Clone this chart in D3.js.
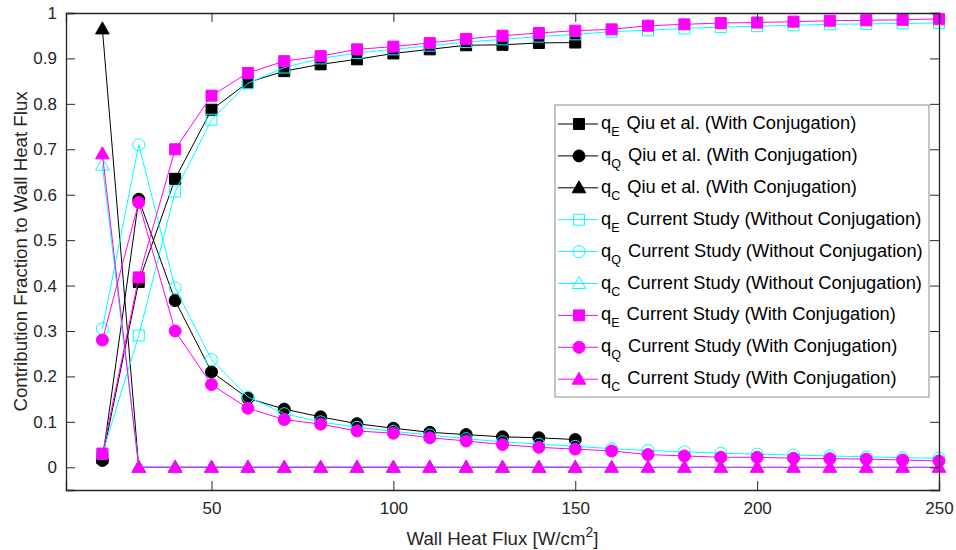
<!DOCTYPE html>
<html>
<head>
<meta charset="utf-8">
<script src="https://cdn.jsdelivr.net/npm/d3@7"></script>
<style>
  body { margin: 0; background: #fff; }
  svg { display: block; font-family: "Liberation Sans", Arial, sans-serif; }
</style>
</head>
<body>
<svg id="chart" width="956" height="550"></svg>
<script>
// Wall heat flux values [W/cm2]
const fluxQiu = [20, 30, 40, 50, 60, 70, 80, 90, 100, 110, 120, 130, 140, 150];
const fluxCur = [20, 30, 40, 50, 60, 70, 80, 90, 100, 110, 120, 130, 140, 150, 160, 170, 180, 190, 200, 210, 220, 230, 240, 250];

// Qiu et al. (with conjugation)
const qiuQE = [0.02, 0.408, 0.635, 0.787, 0.847, 0.872, 0.887, 0.898, 0.911, 0.92, 0.929, 0.93, 0.934, 0.935];
const qiuQQ = [0.015, 0.59, 0.367, 0.21, 0.152, 0.128, 0.111, 0.096, 0.086, 0.077, 0.072, 0.067, 0.065, 0.061];
const qiuQC = [0.965, 0, 0, 0, 0, 0, 0, 0, 0, 0, 0, 0, 0, 0];

// Current study (without conjugation)
const woQE = [0.03, 0.29, 0.607, 0.765, 0.845, 0.88, 0.9, 0.912, 0.92, 0.928, 0.936, 0.942, 0.948, 0.953, 0.959, 0.962, 0.966, 0.969, 0.971, 0.973, 0.975, 0.976, 0.977, 0.978];
const woQQ = [0.305, 0.71, 0.395, 0.237, 0.155, 0.118, 0.1, 0.088, 0.079, 0.071, 0.063, 0.056, 0.051, 0.046, 0.041, 0.037, 0.034, 0.031, 0.029, 0.027, 0.025, 0.023, 0.021, 0.02];
const woQC = [0.665, 0, 0, 0, 0, 0, 0, 0, 0, 0, 0, 0, 0, 0, 0, 0, 0, 0, 0, 0, 0, 0, 0, 0];

// Current study (with conjugation)
const wQE = [0.03, 0.418, 0.70, 0.818, 0.868, 0.894, 0.905, 0.92, 0.926, 0.934, 0.943, 0.95, 0.956, 0.961, 0.964, 0.972, 0.975, 0.978, 0.979, 0.981, 0.983, 0.984, 0.985, 0.987];
const wQQ = [0.28, 0.583, 0.30, 0.182, 0.13, 0.105, 0.095, 0.08, 0.075, 0.065, 0.058, 0.05, 0.044, 0.04, 0.036, 0.028, 0.025, 0.022, 0.022, 0.02, 0.019, 0.018, 0.016, 0.014];
const wQC = [0.69, 0, 0, 0, 0, 0, 0, 0, 0, 0, 0, 0, 0, 0, 0, 0, 0, 0, 0, 0, 0, 0, 0, 0];

const xTicks = [50, 100, 150, 200, 250];
const yTicks = [0, 0.1, 0.2, 0.3, 0.4, 0.5, 0.6, 0.7, 0.8, 0.9, 1];

const series = [
  { name: "Qiu et al. (With Conjugation)", sub: "E", x: fluxQiu, y: qiuQE, color: "#000000", shape: "square", filled: true },
  { name: "Qiu et al. (With Conjugation)", sub: "Q", x: fluxQiu, y: qiuQQ, color: "#000000", shape: "circle", filled: true },
  { name: "Qiu et al. (With Conjugation)", sub: "C", x: fluxQiu, y: qiuQC, color: "#000000", shape: "triangle", filled: true },
  { name: "Current Study (Without Conjugation)", sub: "E", x: fluxCur, y: woQE, color: "#00ffff", shape: "square", filled: false },
  { name: "Current Study (Without Conjugation)", sub: "Q", x: fluxCur, y: woQQ, color: "#00ffff", shape: "circle", filled: false },
  { name: "Current Study (Without Conjugation)", sub: "C", x: fluxCur, y: woQC, color: "#00ffff", shape: "triangle", filled: false },
  { name: "Current Study (With Conjugation)", sub: "E", x: fluxCur, y: wQE, color: "#ff00ff", shape: "square", filled: true },
  { name: "Current Study (With Conjugation)", sub: "Q", x: fluxCur, y: wQQ, color: "#ff00ff", shape: "circle", filled: true },
  { name: "Current Study (With Conjugation)", sub: "C", x: fluxCur, y: wQC, color: "#ff00ff", shape: "triangle", filled: true }
];

const axisColor = "#262626";
const margin = { left: 66, right: 17, top: 13, bottom: 60 };
const W = 956, H = 550;

const svg = d3.select("#chart");

const x = d3.scaleLinear().domain([10, 250]).range([margin.left, W - margin.right]);
const y = d3.scaleLinear().domain([-0.05, 1]).range([H - margin.bottom, margin.top]);

function markerPath(shape) {
  if (shape === "square") return "M-5.5,-5.5H5.5V5.5H-5.5Z";
  if (shape === "circle") return d3.symbol(d3.symbolCircle, Math.PI * 6 * 6)();
  return "M0,-7L6.8,5L-6.8,5Z";
}

function drawMarker(g, s, cx, cy) {
  g.append("path")
    .attr("d", markerPath(s.shape))
    .attr("transform", `translate(${cx},${cy})`)
    .attr("fill", s.filled ? s.color : "none")
    .attr("stroke", s.color)
    .attr("stroke-width", 1);
}

// Data
const plot = svg.append("g");
const line = d3.line().x(d => x(d[0])).y(d => y(d[1]));

series.forEach(s => {
  const pts = s.x.map((v, i) => [v, s.y[i]]);
  const g = plot.append("g");
  g.append("path")
    .attr("d", line(pts))
    .attr("fill", "none")
    .attr("stroke", s.color)
    .attr("stroke-width", 1);
  pts.forEach(p => drawMarker(g, s, x(p[0]), y(p[1])));
});

// Axes (box with inward ticks)
const tickLen = 9;
const axes = svg.append("g");

const bottomAxis = axes.append("g")
  .attr("transform", `translate(0,${y.range()[0]})`)
  .call(d3.axisBottom(x).tickValues(xTicks).tickSize(-tickLen).tickPadding(12).tickFormat(d3.format("d")));
const topAxis = axes.append("g")
  .attr("transform", `translate(0,${y.range()[1]})`)
  .call(d3.axisTop(x).tickValues(xTicks).tickSize(-tickLen).tickFormat(""));
const leftAxis = axes.append("g")
  .attr("transform", `translate(${x.range()[0]},0)`)
  .call(d3.axisLeft(y).tickValues(yTicks).tickSize(-tickLen).tickPadding(9).tickFormat(d => d === 0 ? "0" : d === 1 ? "1" : d3.format(".1f")(d)));
const rightAxis = axes.append("g")
  .attr("transform", `translate(${x.range()[1]},0)`)
  .call(d3.axisRight(y).tickValues(yTicks).tickSize(-tickLen).tickFormat(""));

[bottomAxis, topAxis, leftAxis, rightAxis].forEach(a => {
  a.select(".domain").attr("stroke", axisColor).attr("stroke-width", 1.3);
  a.selectAll(".tick line").attr("stroke", axisColor).attr("stroke-width", 1);
  a.selectAll(".tick text").attr("fill", axisColor).style("font-size", "17px");
});
bottomAxis.selectAll(".tick text").attr("dy", "0.71em");

// Axis labels (MATLAB labels are 1.1x the tick font)
const xl = svg.append("text")
  .attr("x", (x.range()[0] + x.range()[1]) / 2)
  .attr("y", 545)
  .attr("text-anchor", "middle")
  .attr("fill", axisColor)
  .style("font-size", "18.7px");
xl.append("tspan").text("Wall Heat Flux [W/cm");
xl.append("tspan").attr("dy", -8).style("font-size", "14px").text("2");
xl.append("tspan").attr("dy", 8).text("]");

svg.append("text")
  .attr("transform", `translate(27,${(y.range()[0] + y.range()[1]) / 2}) rotate(-90)`)
  .attr("text-anchor", "middle")
  .attr("fill", axisColor)
  .style("font-size", "18.7px")
  .text("Contribution Fraction to Wall Heat Flux");

// Legend
const legend = svg.append("g").attr("transform", "translate(555,105)");
legend.append("rect")
  .attr("width", 374).attr("height", 292)
  .attr("fill", "#fff")
  .attr("stroke", "#8c8c8c")
  .attr("stroke-width", 1);

series.forEach((s, i) => {
  const row = legend.append("g").attr("transform", `translate(0,${19 + i * 31.9})`);
  row.append("line").attr("x1", 3).attr("x2", 43).attr("y1", 0).attr("y2", 0)
    .attr("stroke", s.color).attr("stroke-width", 1);
  drawMarker(row, s, 24, 0);
  const t = row.append("text").attr("x", 46).attr("y", 5)
    .attr("fill", "#000").style("font-size", "18.3px");
  t.append("tspan").text("q");
  t.append("tspan").attr("dy", 7).style("font-size", "12.5px").text(s.sub);
  t.append("tspan").attr("dy", -7).attr("dx", 2).text(" " + s.name);
});
</script>
</body>
</html>
